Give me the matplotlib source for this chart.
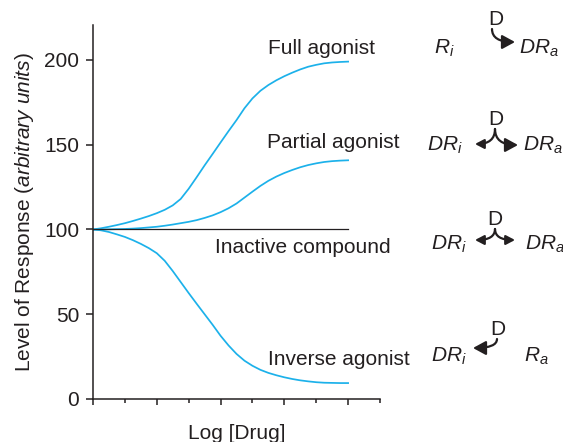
import matplotlib
matplotlib.use("Agg")
import matplotlib.pyplot as plt
from matplotlib.patches import FancyArrowPatch

plt.rcParams['font.family'] = ['Liberation Sans', 'DejaVu Sans']
plt.rcParams['mathtext.fontset'] = 'custom'
plt.rcParams['mathtext.rm'] = 'Liberation Sans'
plt.rcParams['mathtext.it'] = 'Liberation Sans:italic'

# ---- data ----
log_drug = [0, 0.125, 0.25, 0.375, 0.5, 0.625, 0.75, 0.875, 1.0, 1.125, 1.25, 1.375, 1.5,
            1.625, 1.75, 1.875, 2.0, 2.125, 2.25, 2.375, 2.5, 2.625, 2.75, 2.875, 3.0,
            3.125, 3.25, 3.375, 3.5, 3.625, 3.75, 3.875, 4.0]
full_agonist = [100, 100.7, 101.6, 102.6, 103.7, 105, 106.4, 107.9, 109.6, 111.6, 114.2, 118,
                124, 130.8, 137.8, 144.5, 151.3, 158, 164.5, 171.5, 177.3, 181.8, 185.2, 188,
                190.4, 192.5, 194.4, 196, 197.1, 198, 198.5, 198.8, 199]
partial_agonist = [100, 100, 100.1, 100.2, 100.3, 100.5, 100.8, 101.2, 101.6, 102.2, 102.9,
                   103.7, 104.5, 105.5, 106.8, 108.3, 110.2, 112.5, 115.3, 118.8, 122.3, 125.7,
                   128.7, 131.2, 133.3, 135.1, 136.7, 138, 139, 139.8, 140.3, 140.6, 140.8]
inactive_x = [0, 4]
inactive = [100, 100]
inverse_agonist = [100, 99.5, 98.5, 97.1, 95.6, 93.7, 91.5, 89, 86, 81.5, 75.5, 69, 62.5,
                   56.2, 50, 43.8, 37.3, 31.6, 26.6, 22.6, 19.6, 17.2, 15.4, 14, 12.8, 11.8,
                   11, 10.4, 9.9, 9.6, 9.5, 9.4, 9.4]
y_ticks = [0, 50, 100, 150, 200]
x_major = [0, 1, 2, 3, 4]
x_minor = [0.5, 1.5, 2.5, 3.5, 4.5]

W, H = 563, 442
fig = plt.figure(figsize=(W / 100, H / 100), dpi=100)
ax = fig.add_axes([93 / W, 43 / H, (380 - 93) / W, (399 - 25) / H])

blue = '#1cb1ea'
dark = '#231f20'
for ys in (full_agonist, partial_agonist, inverse_agonist):
    ax.plot(log_drug, ys, color=blue, lw=1.25)
ax.plot(inactive_x, inactive, color=dark, lw=0.9)

ax.set_xlim(0, 4.5)
ax.set_ylim(0, 220.6)
ax.spines['top'].set_visible(False)
ax.spines['right'].set_visible(False)
for s in ('left', 'bottom'):
    ax.spines[s].set_color(dark)
    ax.spines[s].set_linewidth(1.1)
ax.set_yticks(y_ticks)
ax.set_xticks(x_major)
ax.set_xticks(x_minor, minor=True)
ax.set_xticklabels([])
ax.tick_params(axis='y', which='major', length=5, width=1.1, color=dark, labelsize=15, labelcolor=dark, pad=5)
ax.tick_params(axis='x', which='major', length=4.5, width=1.1, color=dark)
ax.tick_params(axis='x', which='minor', length=3, width=1.1, color=dark)

ax.set_xlabel('Log [Drug]', fontsize=15, color=dark, labelpad=10)
ax.set_ylabel(r'Level of Response $\mathit{(arbitrary\ units)}$', fontsize=15, color=dark, labelpad=6)

def ftext(x, y, s, ha='left'):
    fig.text(x / W, 1 - y / H, s, fontsize=15, color=dark, va='baseline', ha=ha)

# curve labels
ftext(268, 54, 'Full agonist')
ftext(267, 148, 'Partial agonist')
ftext(215, 253, 'Inactive compound')
ftext(268, 365, 'Inverse agonist')

# receptor schemes
ftext(434, 54, r'$R_i$')
ftext(519, 54, r'$DR_a$')
ftext(427, 151, r'$DR_i$')
ftext(523, 151, r'$DR_a$')
ftext(431, 250, r'$DR_i$')
ftext(525, 250, r'$DR_a$')
ftext(431, 362, r'$DR_i$')
ftext(524, 362, r'$R_a$')
ftext(495.5, 25, 'D', ha='center')
ftext(496, 125, 'D', ha='center')
ftext(495, 225, 'D', ha='center')
ftext(497.5, 335, 'D', ha='center')

def arrow(x0, y0, x1, y1, big=True):
    style = '-|>,head_length=0.55,head_width=0.3' if big else '-|>,head_length=0.38,head_width=0.2'
    fig.patches.append(FancyArrowPatch(
        (x0, H - y0), (x1, H - y1), transform=None,
        arrowstyle=style, mutation_scale=14, lw=1.6, color=dark,
        connectionstyle='angle3,angleA=90,angleB=0', shrinkA=0, shrinkB=0))

arrow(492, 29, 515, 42, True)
arrow(495, 129, 475, 144, False)
arrow(495, 129, 518, 145, True)
arrow(495, 229, 475, 240, False)
arrow(495, 229, 515, 240, False)
arrow(497, 339, 473, 348, True)

fig.savefig('out.png', dpi=100)
